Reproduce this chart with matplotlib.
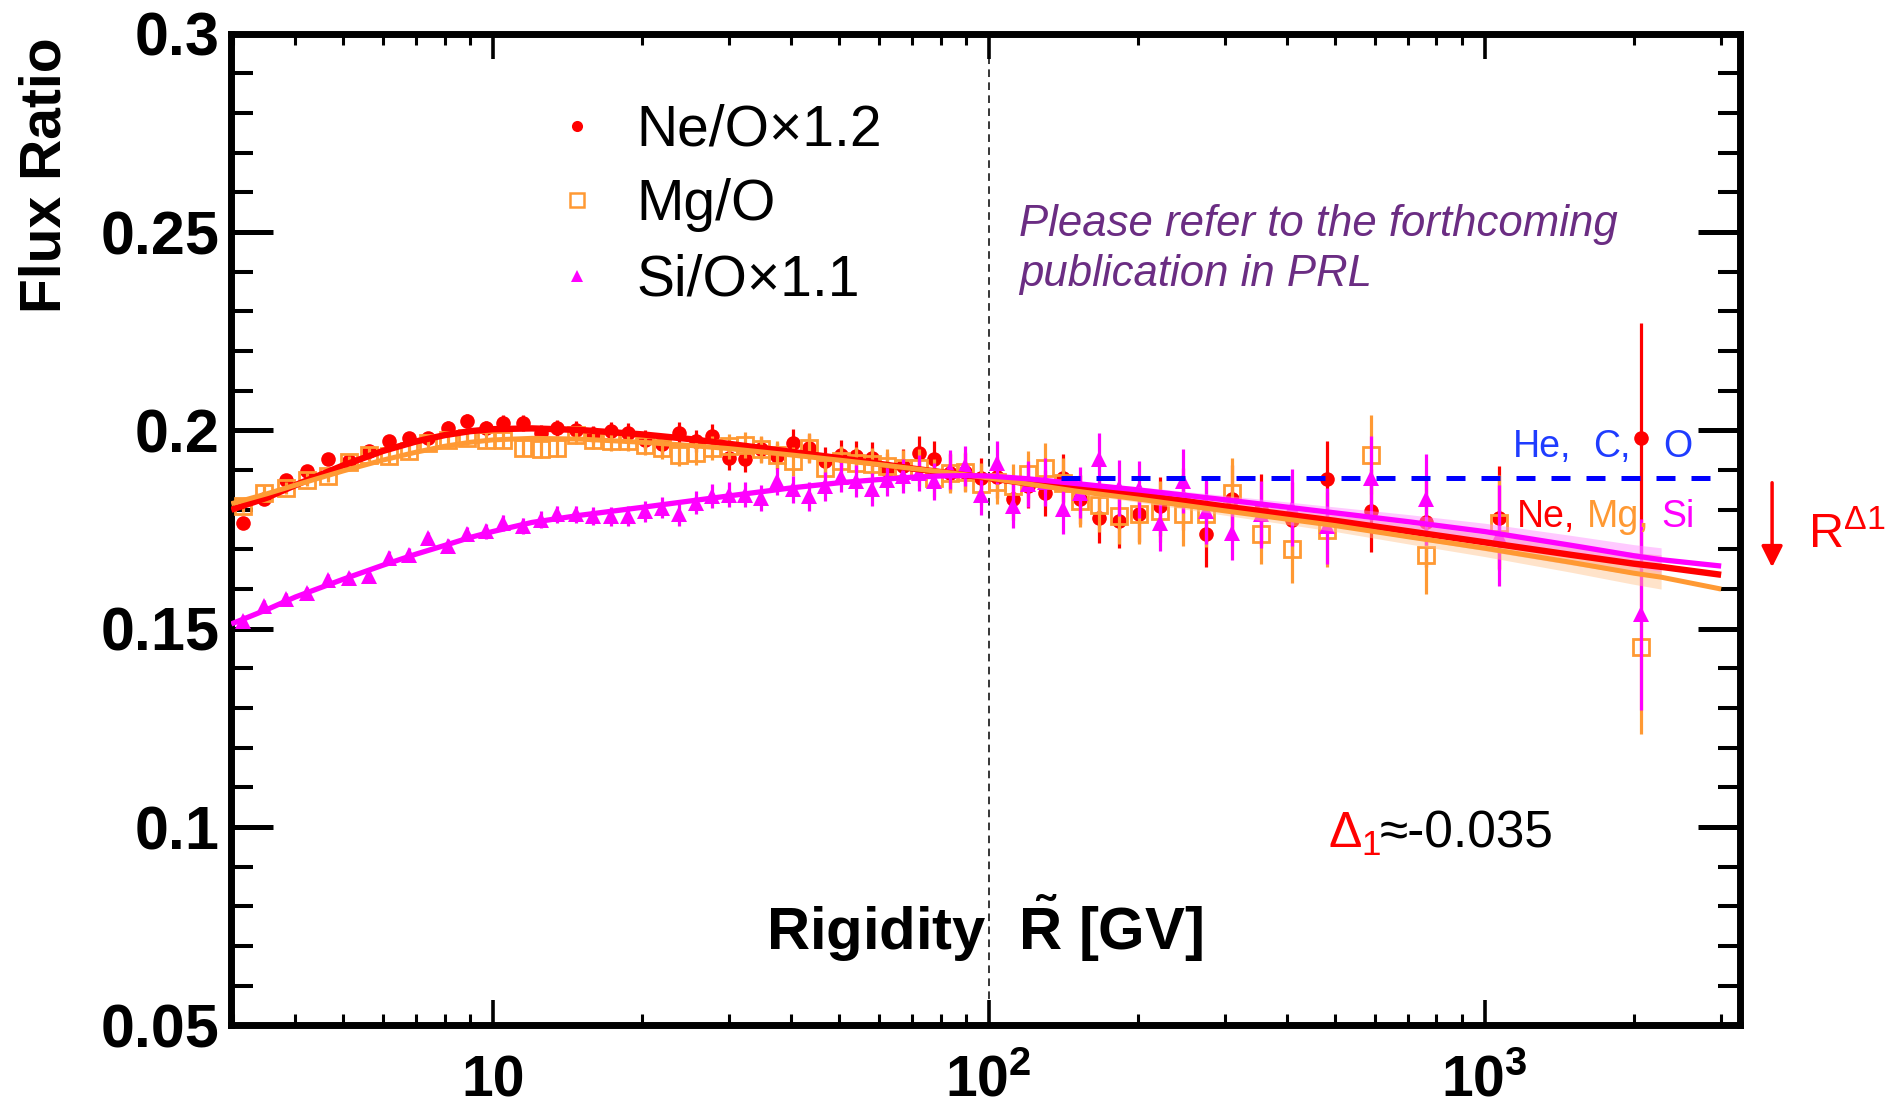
import numpy as np
import matplotlib
matplotlib.use("Agg")
import matplotlib.pyplot as plt
from matplotlib.ticker import FixedLocator, LogLocator, NullFormatter, MultipleLocator

plt.rcParams["font.family"] = ["Liberation Sans", "DejaVu Sans"]
plt.rcParams["mathtext.fontset"] = "custom"
plt.rcParams["mathtext.rm"] = "Liberation Sans"
plt.rcParams["mathtext.it"] = "Liberation Sans:italic"
plt.rcParams["mathtext.bf"] = "Liberation Sans:bold"
plt.rcParams["mathtext.default"] = "regular"

RED = "#ff0000"
ORANGE = "#ff9933"
MAGENTA = "#ff00ff"
BLUE = "#0000ff"
PURPLE = "#6b2d83"

# rigidity bin centres [GV]
rigidity = [3.13, 3.46, 3.83, 4.22, 4.65, 5.12, 5.63, 6.18, 6.77, 7.42,
            8.11, 8.86, 9.67, 10.5, 11.5, 12.5, 13.5, 14.7, 15.9, 17.3,
            18.7, 20.3, 21.9, 23.7, 25.7, 27.7, 29.9, 32.3, 34.8, 37.5,
            40.4, 43.5, 46.8, 50.3, 54.1, 58.2, 62.5, 67.2, 72.3, 77.6,
            83.4, 89.7, 96.4, 104, 112, 120, 130, 141, 153, 167,
            183, 201, 222, 246, 274, 310, 354, 409, 481, 589,
            762, 1070, 2071]

ne_o = [0.1767, 0.1826, 0.1876, 0.1897, 0.1927, 0.1922, 0.1948, 0.1973, 0.1981, 0.1981,
        0.2006, 0.2023, 0.2006, 0.2019, 0.2019, 0.1994, 0.2006, 0.2002, 0.1990, 0.1998,
        0.1994, 0.1977, 0.1965, 0.1994, 0.1973, 0.1985, 0.1931, 0.1927, 0.1952, 0.1935,
        0.1969, 0.1956, 0.1922, 0.1939, 0.1935, 0.1931, 0.1901, 0.1910, 0.1943, 0.1927,
        0.1893, 0.1895, 0.1880, 0.1882, 0.1828, 0.1860, 0.1843, 0.1880, 0.1826, 0.1780,
        0.1771, 0.1790, 0.1809, 0.1826, 0.1738, 0.1826, 0.1801, 0.1775, 0.1878, 0.1798,
        0.1770, 0.1780, 0.1981]
ne_err = [0.0015, 0.0015, 0.0015, 0.0015, 0.0015, 0.0015, 0.0015, 0.0015, 0.0015, 0.0015,
          0.0018, 0.0018, 0.0018, 0.0020, 0.0020, 0.0020, 0.0020, 0.0022, 0.0022, 0.0024,
          0.0024, 0.0025, 0.0026, 0.0027, 0.0028, 0.0030, 0.0030, 0.0031, 0.0032, 0.0033,
          0.0034, 0.0035, 0.0036, 0.0037, 0.0038, 0.0040, 0.0041, 0.0042, 0.0044, 0.0045,
          0.0047, 0.0048, 0.0050, 0.0052, 0.0054, 0.0056, 0.0058, 0.0060, 0.0062, 0.0065,
          0.0068, 0.0071, 0.0074, 0.0078, 0.0082, 0.0086, 0.0090, 0.0095, 0.0095, 0.0105,
          0.0115, 0.0130, 0.0290]

mg_o = [0.1809, 0.1843, 0.1855, 0.1876, 0.1885, 0.1920, 0.1939, 0.1935, 0.1948, 0.1969,
        0.1977, 0.1981, 0.1977, 0.1977, 0.1956, 0.1952, 0.1956, 0.1988, 0.1977, 0.1973,
        0.1973, 0.1964, 0.1956, 0.1939, 0.1943, 0.1956, 0.1960, 0.1964, 0.1952, 0.1939,
        0.1922, 0.1956, 0.1906, 0.1922, 0.1918, 0.1914, 0.1910, 0.1906, 0.1906, 0.1880,
        0.1893, 0.1895, 0.1864, 0.1870, 0.1859, 0.1889, 0.1906, 0.1868, 0.1822, 0.1813,
        0.1784, 0.1788, 0.1796, 0.1788, 0.1788, 0.1843, 0.1738, 0.1700, 0.1750, 0.1939,
        0.1687, 0.1767, 0.1454]
mg_err = [0.0016, 0.0016, 0.0016, 0.0016, 0.0016, 0.0016, 0.0016, 0.0017, 0.0017, 0.0017,
          0.0019, 0.0019, 0.0019, 0.0021, 0.0021, 0.0021, 0.0022, 0.0023, 0.0024, 0.0025,
          0.0026, 0.0027, 0.0028, 0.0029, 0.0030, 0.0031, 0.0032, 0.0033, 0.0034, 0.0035,
          0.0036, 0.0037, 0.0038, 0.0039, 0.0041, 0.0042, 0.0043, 0.0045, 0.0046, 0.0048,
          0.0050, 0.0051, 0.0053, 0.0055, 0.0057, 0.0059, 0.0061, 0.0063, 0.0066, 0.0068,
          0.0071, 0.0074, 0.0077, 0.0080, 0.0083, 0.0088, 0.0076, 0.0085, 0.0095, 0.0100,
          0.0100, 0.0120, 0.0220]

si_o = [0.1519, 0.1557, 0.1574, 0.1590, 0.1624, 0.1628, 0.1633, 0.1679, 0.1687, 0.1729,
        0.1708, 0.1738, 0.1746, 0.1767, 0.1759, 0.1775, 0.1788, 0.1788, 0.1784, 0.1784,
        0.1784, 0.1796, 0.1805, 0.1788, 0.1817, 0.1834, 0.1838, 0.1838, 0.1830, 0.1872,
        0.1851, 0.1834, 0.1859, 0.1882, 0.1872, 0.1851, 0.1876, 0.1885, 0.1893, 0.1872,
        0.1901, 0.1910, 0.1838, 0.1918, 0.1809, 0.1864, 0.1870, 0.1801, 0.1843, 0.1927,
        0.1855, 0.1851, 0.1767, 0.1872, 0.1796, 0.1742, 0.1788, 0.1805, 0.1759, 0.1880,
        0.1826, 0.1735, 0.1536]
si_err = [0.0015, 0.0015, 0.0015, 0.0015, 0.0015, 0.0015, 0.0015, 0.0016, 0.0016, 0.0016,
          0.0018, 0.0018, 0.0019, 0.0020, 0.0020, 0.0021, 0.0021, 0.0022, 0.0023, 0.0024,
          0.0025, 0.0026, 0.0027, 0.0028, 0.0029, 0.0030, 0.0031, 0.0032, 0.0033, 0.0034,
          0.0035, 0.0036, 0.0037, 0.0038, 0.0040, 0.0041, 0.0042, 0.0044, 0.0045, 0.0047,
          0.0049, 0.0050, 0.0052, 0.0054, 0.0056, 0.0058, 0.0060, 0.0062, 0.0065, 0.0067,
          0.0070, 0.0073, 0.0072, 0.0080, 0.0082, 0.0069, 0.0085, 0.0097, 0.0095, 0.0105,
          0.0115, 0.0128, 0.0240]

# fitted ratios
fit_rigidity = [2.97, 3.5, 4, 5, 6, 7, 8, 9, 10, 12, 15, 20, 25, 30, 40, 50, 60, 70, 80, 90,
                100, 120, 150, 200, 300, 500, 700, 1000, 1500, 2000, 2270, 3000]
ne_fit = [0.1800, 0.1830, 0.1862, 0.1912, 0.1948, 0.1972, 0.1988, 0.1998, 0.2003, 0.2005,
          0.2001, 0.1990, 0.1978, 0.1966, 0.1946, 0.1930, 0.1916, 0.1904, 0.1895, 0.1887,
          0.1880, 0.1866, 0.1855, 0.1838, 0.1808, 0.1772, 0.1746, 0.1718, 0.1686, 0.1664,
          0.1656, 0.1636]
mg_fit = [0.1815, 0.1840, 0.1862, 0.1898, 0.1925, 0.1945, 0.1960, 0.1970, 0.1976, 0.1980,
          0.1978, 0.1970, 0.1962, 0.1954, 0.1938, 0.1925, 0.1914, 0.1904, 0.1896, 0.1888,
          0.1880, 0.1865, 0.1847, 0.1827, 0.1797, 0.1760, 0.1732, 0.1703, 0.1667, 0.1640,
          0.1630, 0.1600]
si_fit = [0.1512, 0.1548, 0.1580, 0.1625, 0.1660, 0.1688, 0.1710, 0.1730, 0.1745, 0.1768,
          0.1786, 0.1806, 0.1822, 0.1835, 0.1855, 0.1868, 0.1876, 0.1882, 0.1885, 0.1886,
          0.1885, 0.1878, 0.1866, 0.1850, 0.1825, 0.1792, 0.1770, 0.1745, 0.1710, 0.1684,
          0.1674, 0.1658]
# fit uncertainty half-width for 150 <= R <= 2270
band_halfwidth = [0.0006, 0.0008, 0.0011, 0.0015, 0.0018, 0.0021, 0.0025, 0.0028, 0.0030]

heco_level = 0.188
heco_range = [140, 2985]

ytick_vals = [0.05, 0.1, 0.15, 0.2, 0.25, 0.3]
ytick_labels = ["0.05", "0.1", "0.15", "0.2", "0.25", "0.3"]
xtick_vals = [10, 100, 1000]
xtick_labels = ["10", r"$\mathbf{10^{2}}$", r"$\mathbf{10^{3}}$"]


fig = plt.figure(figsize=(18.85, 11.11), dpi=100)
ax = fig.add_axes([0.1225, 0.0770, 0.8005, 0.8927])
ax.set_xscale("log")
ax.set_xlim(2.965, 3272)
ax.set_ylim(0.05, 0.3)

# data points
err_kw = dict(linestyle="none", elinewidth=2.3, capsize=0)
ax.errorbar(rigidity, ne_o, yerr=ne_err, marker="o", ms=10.5, mew=0, color=RED, zorder=3, **err_kw)
ax.errorbar(rigidity, mg_o, yerr=mg_err, marker="s", ms=12, mfc="none", mew=2.0, color=ORANGE,
            zorder=3.1, **err_kw)
ax.errorbar(rigidity, si_o, yerr=si_err, marker="^", ms=11, mew=0, color=MAGENTA, zorder=3.2, **err_kw)

# fit bands and lines
fr = np.array(fit_rigidity)
sel = (fr >= 150) & (fr <= 2270)
hw = np.array(band_halfwidth)
for fit, col in [(ne_fit, "#ff8080"), (mg_fit, "#ffc28a"), (si_fit, "#ff88ff")]:
    f = np.array(fit)[sel]
    ax.fill_between(fr[sel], f - hw, f + hw, color=col, alpha=0.45, lw=0, zorder=4)
ax.plot(fit_rigidity, ne_fit, color=RED, lw=4.6, zorder=5, solid_capstyle="butt")
ax.plot(fit_rigidity, mg_fit, color=ORANGE, lw=3.6, zorder=5.1, solid_capstyle="butt")
ax.plot(fit_rigidity, si_fit, color=MAGENTA, lw=3.8, zorder=5.2, solid_capstyle="butt")

# He, C, O reference level
ax.plot(heco_range, [heco_level, heco_level], color=BLUE, lw=3.6, ls=(0, (3.8, 3.2)), zorder=6)
ax.axvline(100, color="black", lw=1.1, ls=(0, (5, 3.5)), zorder=1)

# axes style
for sp in ax.spines.values():
    sp.set_linewidth(5)
ax.set_yticks(ytick_vals, ytick_labels, fontsize=44, fontweight="bold")
ax.yaxis.set_minor_locator(MultipleLocator(0.01))
ax.tick_params(axis="y", which="major", direction="in", length=30, width=3.6,
               left=True, right=True, pad=8)
ax.tick_params(axis="y", which="minor", direction="in", length=15.6, width=2.9,
               left=True, right=True)
ax.xaxis.set_major_locator(FixedLocator(xtick_vals))
ax.xaxis.set_minor_locator(LogLocator(base=10, subs=range(2, 10)))
ax.xaxis.set_major_formatter(NullFormatter())
ax.xaxis.set_minor_formatter(NullFormatter())
ax.tick_params(axis="x", which="major", direction="in", length=18, width=2.6,
               top=True, bottom=True, labelbottom=False)
ax.tick_params(axis="x", which="minor", direction="in", length=8, width=2.2,
               top=True, bottom=True)
for val, lab in zip(xtick_vals, xtick_labels):
    ax.text(val, -0.0715, lab, transform=ax.get_xaxis_transform(), ha="center",
            va="baseline", fontsize=41, fontweight="bold", clip_on=False)

fig.text(0.0242, 0.842, "Flux Ratio", rotation=90, ha="center", va="center",
         fontsize=41, fontweight="bold")
ax.text(0.4993, 0.0764, r"Rigidity  $\mathbf{\tilde{R}}$ [GV]", transform=ax.transAxes,
        ha="center", va="baseline", fontsize=43, fontweight="bold", zorder=7)

# legend
legend_rows = [("o", RED, "Ne/O×1.2", 0.9072, 0.8873),
               ("s", ORANGE, "Mg/O", 0.8321, 0.8122),
               ("^", MAGENTA, "Si/O×1.1", 0.7558, 0.7358)]
for mk, col, lab, ym, yt in legend_rows:
    if mk == "s":
        ax.plot([0.2293], [ym], marker=mk, ms=10, mfc="none", mec=col, mew=1.8,
                transform=ax.transAxes, clip_on=False, zorder=7)
    else:
        ax.plot([0.2293], [ym], marker=mk, ms=8, color=col, mew=0,
                transform=ax.transAxes, clip_on=False, zorder=7)
    ax.text(0.2690, yt, lab, transform=ax.transAxes, fontsize=41, va="baseline", zorder=7)

ax.text(0.5225, 0.7964, "Please refer to the forthcoming", transform=ax.transAxes,
        fontsize=31.5, style="italic", color=PURPLE, va="baseline", zorder=7)
ax.text(0.5225, 0.7456, "publication in PRL", transform=ax.transAxes,
        fontsize=31.5, style="italic", color=PURPLE, va="baseline", zorder=7)

for xt, lab in [(0.8496, "He,"), (0.9026, "C,"), (0.9490, "O")]:
    ax.text(xt, 0.5735, lab, transform=ax.transAxes, fontsize=27, color="#1f3cff",
            va="baseline", zorder=7)
for xt, lab, col in [(0.8520, "Ne,", RED), (0.8984, "Mg,", ORANGE), (0.9481, "Si", MAGENTA)]:
    ax.text(xt, 0.5029, lab, transform=ax.transAxes, fontsize=27, color=col,
            va="baseline", zorder=7)

ax.text(0.7270, 0.1795, r"$\Delta_1$", transform=ax.transAxes, fontsize=36, color=RED,
        va="baseline", zorder=7)
ax.text(0.7613, 0.1795, "≈-0.035", transform=ax.transAxes, fontsize=37, color="black",
        va="baseline", zorder=7)

# spectral change marker outside the frame
ax.annotate("", xy=(0.9401, 0.4869), xytext=(0.9401, 0.5680), xycoords="figure fraction",
            textcoords="figure fraction",
            arrowprops=dict(arrowstyle="-|>", color=RED, lw=2.5, mutation_scale=32))
fig.text(0.9592, 0.5068, r"$\mathrm{R}^{\Delta 1}$", color=RED, fontsize=35, va="baseline")

fig.savefig("out.png", dpi=100)
